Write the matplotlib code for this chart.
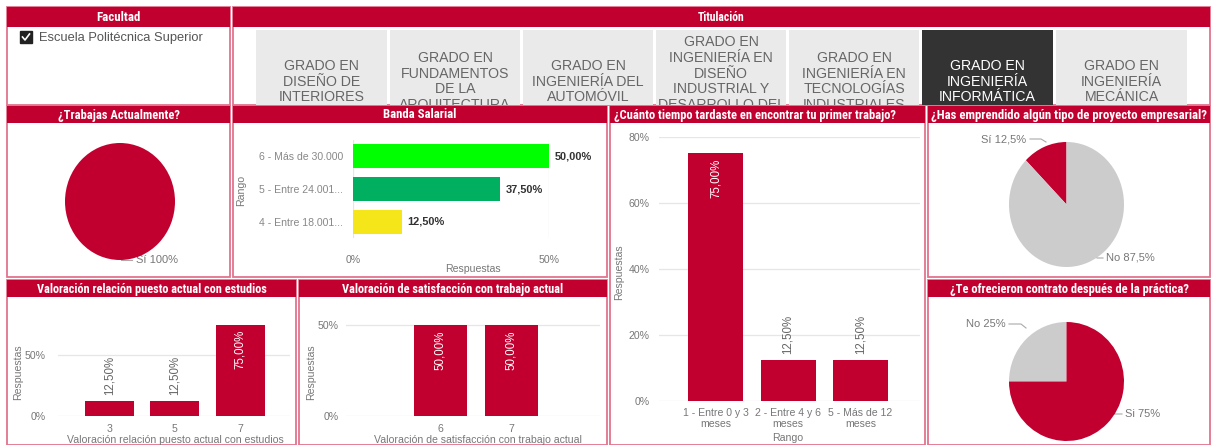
import numpy as np
import matplotlib
matplotlib.use("Agg")
import matplotlib.pyplot as plt
from matplotlib import font_manager
from matplotlib.patches import Rectangle

# ---------------- data ----------------
titulaciones = [
    "GRADO EN\nDISEÑO DE\nINTERIORES",
    "GRADO EN\nFUNDAMENTOS\nDE LA\nARQUITECTURA",
    "GRADO EN\nINGENIERÍA DEL\nAUTOMÓVIL",
    "GRADO EN\nINGENIERÍA EN\nDISEÑO\nINDUSTRIAL Y\nDESARROLLO DEL\nPRODUCTO",
    "GRADO EN\nINGENIERÍA EN\nTECNOLOGÍAS\nINDUSTRIALES",
    "GRADO EN\nINGENIERÍA\nINFORMÁTICA",
    "GRADO EN\nINGENIERÍA\nMECÁNICA",
]
selected_tab = 5

trabajas_labels = ["Sí"]
trabajas_values = [100]

banda_cats = ["6 - Más de 30.000", "5 - Entre 24.001...", "4 - Entre 18.001..."]
banda_values = [50.0, 37.5, 12.5]

tiempo_cats = ["1 - Entre 0 y 3\nmeses", "2 - Entre 4 y 6\nmeses", "5 - Más de 12\nmeses"]
tiempo_values = [75.0, 12.5, 12.5]

emprendido_labels = ["Sí", "No"]
emprendido_values = [12.5, 87.5]

relacion_cats = ["3", "5", "7"]
relacion_values = [12.5, 12.5, 75.0]

satisf_cats = ["6", "7"]
satisf_values = [50.0, 50.0]

contrato_labels = ["No", "Si"]
contrato_values = [25, 75]

# ---------------- style ----------------
RED = "#C2002F"
GRAY = "#CCCCCC"
BORDER = "#E2738E"
TAB = "#EAEAEA"
TAB_DARK = "#333333"
TICK = "#777777"
LEADER = "#AAAAAA"
BANDA_COLORS = ["#00FF00", "#00B060", "#F5E61A"]

names = {f.name for f in font_manager.fontManager.ttflist}
HEAD = "Liberation Sans"
for cand in ["Liberation Sans Narrow", "Roboto Condensed", "Arial Narrow"]:
    if cand in names:
        HEAD = cand
        break
REG = "Liberation Sans"
plt.rcParams["font.family"] = [REG, "DejaVu Sans"]

W, H = 1212, 445
fig = plt.figure(figsize=(W / 100, H / 100), dpi=100)
fig.patch.set_facecolor("white")
renderer = fig.canvas.get_renderer()


def rect(x0, y0, x1, y1):
    return [x0 / W, 1 - y1 / H, (x1 - x0) / W, (y1 - y0) / H]


def fit(txt, target_w):
    w = txt.get_window_extent(renderer).width
    if w > 0:
        txt.set_fontsize(txt.get_fontsize() * target_w / w)


bg = fig.add_axes([0, 0, 1, 1], zorder=0)
bg.set_xlim(0, W)
bg.set_ylim(H, 0)
bg.axis("off")


def pct(v, d=2):
    return (f"{v:.{d}f}%").replace(".", ",")


# panel borders
panels = [(7, 7, 230, 105), (233, 7, 1210, 105), (7, 106, 230, 277), (233, 106, 607, 277),
          (610, 106, 925, 445), (928, 106, 1210, 277), (7, 280, 296, 445),
          (299, 280, 607, 445), (928, 280, 1210, 445)]
for x0, y0, x1, y1 in panels:
    bg.add_patch(Rectangle((x0, y0), x1 - x0, y1 - y0, fill=False, ec=BORDER, lw=1.3))

headers = [((7, 7, 230, 27), "Facultad", "center", 44),
           ((233, 7, 1210, 27), "Titulación", "center", 47),
           ((7, 106, 230, 123), "¿Trabajas Actualmente?", "center", 121),
           ((233, 106, 607, 123), "Banda Salarial", "center", 73),
           ((610, 106, 925, 123), "¿Cuánto tiempo tardaste en encontrar tu primer trabajo?", "left", 282),
           ((928, 106, 1210, 123), "¿Has emprendido algún tipo de proyecto empresarial?", "center", 275),
           ((7, 280, 296, 297), "Valoración relación puesto actual con estudios", "center", 230),
           ((299, 280, 607, 297), "Valoración de satisfacción con trabajo actual", "center", 222),
           ((928, 280, 1210, 297), "¿Te ofrecieron contrato después de la práctica?", "center", 238)]
for (x0, y0, x1, y1), t, ha, tw in headers:
    bg.add_patch(Rectangle((x0, y0), x1 - x0, y1 - y0, fc=RED, ec="none", zorder=3))
    tx = (x0 + x1) / 2 if ha == "center" else x0 + 4
    ht = bg.text(tx, (y0 + y1) / 2 + 0.5, t, ha=ha, va="center", color="white",
                 fontsize=8.6, fontweight="bold", family=[HEAD, "DejaVu Sans"], zorder=4)
    fit(ht, tw)

# Facultad slicer
bg.add_patch(Rectangle((20, 31), 12, 12, fc="#222222", ec="#222222", zorder=3))
bg.plot([22.5, 25, 29.5], [37, 40, 34], color="white", lw=1.2, zorder=4)
bg.text(39, 37.5, "Escuela Politécnica Superior", ha="left", va="center", color="#555555",
        fontsize=9.3)

# Titulación tabs
tab_x = [(256, 387), (390, 520), (523, 653), (656, 786), (789, 919), (922, 1053), (1056, 1187)]
for i, ((x0, x1), t) in enumerate(zip(tab_x, titulaciones)):
    tax = fig.add_axes(rect(x0, 30, x1, 105), zorder=1)
    dark = i == selected_tab
    tax.set_facecolor(TAB_DARK if dark else TAB)
    tax.set_xticks([]); tax.set_yticks([])
    for s in tax.spines.values():
        s.set_visible(False)
    tax.text(0.5, 1 - (81.5 - 30) / 75, t, transform=tax.transAxes, ha="center", va="center",
             color="white" if dark else "#666666", fontsize=10.2, linespacing=1.18,
             clip_on=True)


def style_bar_axes(ax):
    for s in ax.spines.values():
        s.set_visible(False)
    ax.tick_params(length=0, colors=TICK, labelsize=7.6)
    ax.set_facecolor("none")


# ---------------- ¿Trabajas Actualmente? ----------------
ax1 = fig.add_axes(rect(65, 143, 175, 260), zorder=2)
ax1.pie(trabajas_values, colors=[RED], startangle=90, counterclock=False,
        wedgeprops=dict(lw=0))
ax1.set_aspect("auto"); ax1.set_xlim(-1, 1); ax1.set_ylim(-1, 1)
bg.plot([121, 121, 132], [252, 260, 260], color=LEADER, lw=0.8)
bg.text(136, 260, f"{trabajas_labels[0]} {trabajas_values[0]}%", ha="left", va="center",
        color=TICK, fontsize=8)

# ---------------- Banda Salarial ----------------
ax2 = fig.add_axes(rect(353, 140, 549, 238), zorder=2)
yb = np.arange(len(banda_cats))
ax2.barh(yb, banda_values, height=0.73, color=BANDA_COLORS)
ax2.set_xlim(0, 50)
ax2.set_ylim(len(banda_cats) - 0.5, -0.5)
ax2.set_yticks(yb, banda_cats)
ax2.set_xticks([0, 50], ["0%", "50%"])
style_bar_axes(ax2)
ax2.tick_params(axis="y", pad=7, colors="#888888")
ax2.tick_params(axis="x", pad=12)
ax2.xaxis.grid(True, color="#E6E6E6", lw=0.9)
ax2.set_axisbelow(True)
for y, v in zip(yb, banda_values):
    ax2.annotate(pct(v), (v, y), xytext=(4, 0), textcoords="offset points", ha="left",
                 va="center", fontsize=7.9, fontweight="bold", color="#333333",
                 annotation_clip=False)
bg.text(473, 269, "Respuestas", ha="center", va="center", color=TICK, fontsize=7.6)
bg.text(241, 190, "Rango", ha="center", va="center", rotation=90, color=TICK, fontsize=7.6)


def vbars(ax, cats, vals, ymax, ticks, width, xlim, label_pad):
    x = np.arange(len(cats))
    ax.bar(x, vals, width=width, color=RED)
    ax.set_xlim(*xlim)
    ax.set_ylim(0, ymax)
    ax.set_xticks(x, cats)
    ax.set_yticks(ticks, [f"{t}%" for t in ticks])
    style_bar_axes(ax)
    ax.tick_params(axis="y", pad=label_pad)
    ax.tick_params(axis="x", pad=6)
    ax.yaxis.grid(True, color="#E6E6E6", lw=0.9)
    ax.set_axisbelow(True)
    for xi, v in zip(x, vals):
        if v >= 40:
            ax.annotate(pct(v), (xi, v), xytext=(0, -4), textcoords="offset points",
                        rotation=90, ha="center", va="top", color="white", fontsize=8.3)
        else:
            ax.annotate(pct(v), (xi, v), xytext=(0, 4), textcoords="offset points",
                        rotation=90, ha="center", va="bottom", color="#666666", fontsize=8.3)


# ---------------- ¿Cuánto tiempo? ----------------
ax3 = fig.add_axes(rect(659, 137, 920, 401), zorder=2)
vbars(ax3, tiempo_cats, tiempo_values, 80, [0, 20, 40, 60, 80], 0.76, (-0.78, 2.82), 7)
ax3.tick_params(axis="x", pad=5)
for lab in ax3.get_xticklabels():
    lab.set_linespacing(1.1)
bg.text(788, 438, "Rango", ha="center", va="center", color=TICK, fontsize=7.6)
bg.text(619, 272, "Respuestas", ha="center", va="center", rotation=90, color=TICK, fontsize=7.6)

# ---------------- ¿Has emprendido? ----------------
ax4 = fig.add_axes(rect(1009, 142, 1124, 267), zorder=2)
ax4.pie(emprendido_values, colors=[RED, GRAY], startangle=90, counterclock=True,
        wedgeprops=dict(lw=0))
ax4.set_aspect("auto"); ax4.set_xlim(-1, 1); ax4.set_ylim(-1, 1)
bg.plot([1030, 1041, 1046], [139, 139, 142], color=LEADER, lw=0.8)
bg.text(1026, 139, f"{emprendido_labels[0]} {pct(emprendido_values[0], 1)}", ha="right",
        va="center", color=TICK, fontsize=8)
bg.plot([1091, 1097, 1103], [251, 258, 258], color=LEADER, lw=0.8)
bg.text(1106, 258, f"{emprendido_labels[1]} {pct(emprendido_values[1], 1)}", ha="left",
        va="center", color=TICK, fontsize=8)

# ---------------- Valoración relación ----------------
ax5 = fig.add_axes(rect(58, 416 - 80 * 1.22, 290, 416), zorder=2)
vbars(ax5, relacion_cats, relacion_values, 80, [0, 50], 0.75, (-0.79, 2.76), 9)
bg.text(175, 440, "Valoración relación puesto actual con estudios", ha="center", va="center",
        color=TICK, fontsize=7.6)
bg.text(18, 372, "Respuestas", ha="center", va="center", rotation=90, color=TICK, fontsize=7.6)

# ---------------- Valoración satisfacción ----------------
ax6 = fig.add_axes(rect(346, 416 - 52 * 1.82, 600, 416), zorder=2)
vbars(ax6, satisf_cats, satisf_values, 52, [0, 50], 0.75, (-1.33, 2.25), 5)
bg.text(478, 440, "Valoración de satisfacción con trabajo actual", ha="center", va="center",
        color=TICK, fontsize=7.6)
bg.text(311, 372, "Respuestas", ha="center", va="center", rotation=90, color=TICK, fontsize=7.6)

# ---------------- ¿Te ofrecieron contrato? ----------------
ax7 = fig.add_axes(rect(1009, 322, 1124, 441), zorder=2)
ax7.pie(contrato_values, colors=[GRAY, RED], startangle=90, counterclock=True,
        wedgeprops=dict(lw=0))
ax7.set_aspect("auto"); ax7.set_xlim(-1, 1); ax7.set_ylim(-1, 1)
bg.plot([1009, 1021, 1026], [324, 324, 328], color=LEADER, lw=0.8)
bg.text(1006, 324, f"{contrato_labels[0]} {contrato_values[0]}%", ha="right", va="center",
        color=TICK, fontsize=8)
bg.plot([1108, 1114, 1122], [408, 414, 414], color=LEADER, lw=0.8)
bg.text(1125, 414, f"{contrato_labels[1]} {contrato_values[1]}%", ha="left", va="center",
        color=TICK, fontsize=8)

fig.savefig("out.png", dpi=100)
